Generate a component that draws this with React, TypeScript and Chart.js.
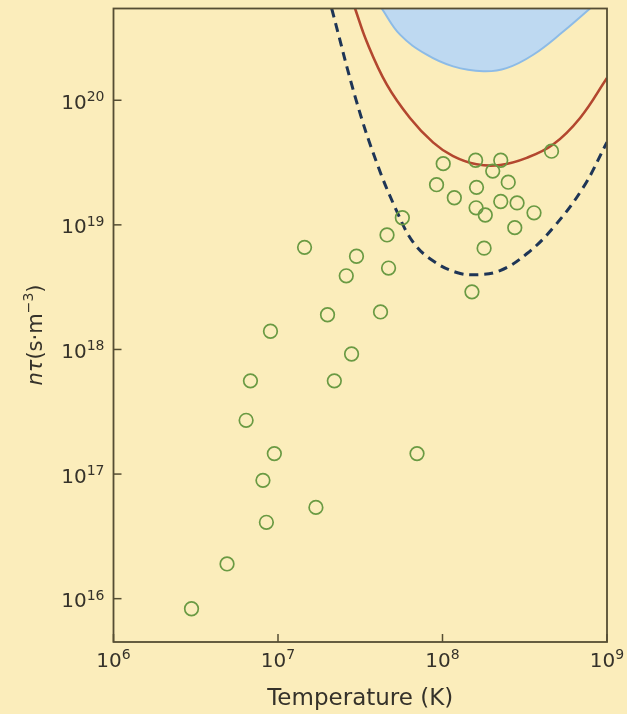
import React, { useEffect, useRef } from "react";
import { Chart, registerables } from "chart.js";

Chart.register(...registerables);

// ---- Data ----
const temperatureK = [
  2.98e6, 4.9e6, 8.5e6, 8.1e6, 9.5e6, 6.4e6, 6.8e6, 9.0e6, 1.45e7, 1.7e7,
  2.0e7, 2.2e7, 2.8e7, 2.6e7, 3.0e7, 4.2e7, 4.6e7, 4.7e7, 5.7e7, 7.0e7,
  9.2e7, 1.01e8, 1.18e8, 1.51e8, 1.59e8, 1.61e8, 1.6e8, 1.82e8, 1.79e8, 2.02e8,
  2.26e8, 2.26e8, 2.51e8, 2.84e8, 2.75e8, 3.6e8, 4.6e8,
];
const nTau = [
  8.3e15, 1.9e16, 4.1e16, 8.9e16, 1.46e17, 2.7e17, 5.6e17, 1.4e18, 6.6e18, 5.4e16,
  1.9e18, 5.6e17, 9.2e17, 3.9e18, 5.6e18, 2.0e18, 8.3e18, 4.5e18, 1.14e19, 1.46e17,
  2.1e19, 3.1e19, 1.65e19, 2.9e18, 3.3e19, 2.0e19, 1.37e19, 1.2e19, 6.5e18, 2.7e19,
  3.3e19, 1.54e19, 2.2e19, 1.5e19, 9.5e18, 1.25e19, 3.9e19,
];

// dashed navy curve
const breakEvenT = [2.12e7, 3.0e7, 3.98e7, 5.27e7, 6.64e7, 8.75e7, 1.22e8, 1.61e8, 2.24e8, 3.25e8, 4.7e8, 7.14e8, 1e9];
const breakEvenNt = [5.45e20, 9.8e19, 3.16e19, 1.29e19, 7.25e18, 5.15e18, 4.15e18, 3.98e18, 4.29e18, 5.86e18, 9.46e18, 1.98e19, 4.6e19];

// solid red curve
const lawsonT = [2.94e7, 3.46e7, 4.58e7, 6.34e7, 8.79e7, 1.16e8, 1.61e8, 2.24e8, 3.25e8, 4.72e8, 6.86e8, 1e9];
const lawsonNt = [5.45e20, 2.96e20, 1.34e20, 7.21e19, 4.57e19, 3.56e19, 3.06e19, 3.02e19, 3.45e19, 4.43e19, 7.21e19, 1.51e20];

// blue shaded region boundary
const ignitionT = [4.27e7, 5.52e7, 8.02e7, 1.16e8, 1.77e8, 2.45e8, 3.56e8, 5.42e8, 7.89e8];
const ignitionNt = [5.45e20, 3.36e20, 2.32e20, 1.87e20, 1.71e20, 1.81e20, 2.32e20, 3.56e20, 5.45e20];

const xTickValues = [1e6, 1e7, 1e8, 1e9];
const xTickExponents = ["6", "7", "8", "9"];
const yTickValues = [1e16, 1e17, 1e18, 1e19, 1e20];
const yTickExponents = ["16", "17", "18", "19", "20"];

const X_MIN = 1e6;
const X_MAX = 1e9;
const Y_MIN = 4.49e15;
const Y_MAX = 5.45e20;

const xTitle = "Temperature (K)";

// ---- Styles ----
const BG = "#fbedbb";
const AXIS = "#554d33";
const TEXT = "#35322a";
const FONT = "'DejaVu Sans', 'Open Sans', sans-serif";

const pairs = (xs: number[], ys: number[]) => xs.map((x, i) => ({ x, y: ys[i] }));

const decorPlugin = {
  id: "decor",
  beforeDraw(chart: any) {
    const ctx = chart.ctx;
    ctx.save();
    ctx.fillStyle = BG;
    ctx.fillRect(0, 0, chart.width, chart.height);
    ctx.restore();
  },
  afterDraw(chart: any) {
    const ctx = chart.ctx;
    const a = chart.chartArea;
    const xs = chart.scales.x;
    const ys = chart.scales.y;
    ctx.save();
    // frame
    ctx.strokeStyle = AXIS;
    ctx.lineWidth = 1.8;
    ctx.strokeRect(a.left, a.top, a.right - a.left, a.bottom - a.top);
    // inner ticks
    ctx.lineWidth = 1.5;
    xTickValues.forEach((v) => {
      const px = xs.getPixelForValue(v);
      ctx.beginPath();
      ctx.moveTo(px, a.bottom);
      ctx.lineTo(px, a.bottom - 8);
      ctx.stroke();
    });
    yTickValues.forEach((v) => {
      const py = ys.getPixelForValue(v);
      ctx.beginPath();
      ctx.moveTo(a.left, py);
      ctx.lineTo(a.left + 8, py);
      ctx.stroke();
    });
    // tick labels
    ctx.fillStyle = TEXT;
    ctx.textBaseline = "alphabetic";
    const baseFont = `20px ${FONT}`;
    const supFont = `14px ${FONT}`;
    xTickValues.forEach((v, i) => {
      const px = xs.getPixelForValue(v);
      ctx.font = baseFont;
      const w1 = ctx.measureText("10").width;
      ctx.font = supFont;
      const w2 = ctx.measureText(xTickExponents[i]).width;
      const start = px - (w1 + w2) / 2;
      ctx.font = baseFont;
      ctx.textAlign = "left";
      ctx.fillText("10", start, a.bottom + 25);
      ctx.font = supFont;
      ctx.fillText(xTickExponents[i], start + w1, a.bottom + 17);
    });
    yTickValues.forEach((v, i) => {
      const py = ys.getPixelForValue(v);
      ctx.font = supFont;
      const w2 = ctx.measureText(yTickExponents[i]).width;
      ctx.textAlign = "left";
      const right = a.left - 9;
      ctx.fillText(yTickExponents[i], right - w2, py + 1);
      ctx.font = baseFont;
      const w1 = ctx.measureText("10").width;
      ctx.fillText("10", right - w2 - w1, py + 8.5);
    });
    // x title
    ctx.font = `23px ${FONT}`;
    ctx.textAlign = "center";
    ctx.fillText(xTitle, (a.left + a.right) / 2, 705);
    // y title (rotated, mixed styles)
    const parts = [
      { t: "nτ", f: `italic 21px ${FONT}`, dy: 0 },
      { t: "(s·m", f: `21px ${FONT}`, dy: 0 },
      { t: "−3", f: `14px ${FONT}`, dy: -9 },
      { t: ")", f: `21px ${FONT}`, dy: 0 },
    ];
    let total = 0;
    parts.forEach((p) => {
      ctx.font = p.f;
      total += ctx.measureText(p.t).width;
    });
    ctx.translate(42, 335);
    ctx.rotate(-Math.PI / 2);
    ctx.textAlign = "left";
    let cx = -total / 2;
    parts.forEach((p) => {
      ctx.font = p.f;
      ctx.fillText(p.t, cx, p.dy);
      cx += ctx.measureText(p.t).width;
    });
    ctx.restore();
  },
};

export default function App() {
  const ref = useRef<HTMLCanvasElement | null>(null);

  useEffect(() => {
    if (!ref.current) return;
    const chart = new Chart(ref.current, {
      type: "scatter",
      data: {
        datasets: [
          {
            label: "Experiments",
            data: pairs(temperatureK, nTau),
            pointRadius: 6.8,
            pointHoverRadius: 6.8,
            pointBorderWidth: 1.7,
            pointBorderColor: "#6a9a43",
            pointBackgroundColor: "rgba(0,0,0,0)",
            showLine: false,
          },
          {
            label: "Break-even",
            type: "line",
            data: pairs(breakEvenT, breakEvenNt),
            borderColor: "#1e3556",
            borderWidth: 3,
            borderDash: [9, 6],
            pointRadius: 0,
            tension: 0.4,
            fill: false,
          },
          {
            label: "Lawson",
            type: "line",
            data: pairs(lawsonT, lawsonNt),
            borderColor: "#b3472f",
            borderWidth: 2.6,
            pointRadius: 0,
            tension: 0.4,
            fill: false,
          },
          {
            label: "Ignition",
            type: "line",
            data: pairs(ignitionT, ignitionNt),
            borderColor: "#8dbbe6",
            backgroundColor: "#bed9f1",
            borderWidth: 2,
            pointRadius: 0,
            tension: 0.4,
            fill: "end",
          },
        ],
      },
      options: {
        animation: false,
        responsive: false,
        devicePixelRatio: 1,
        layout: { padding: { top: 7, right: 20, left: 0, bottom: 0 } },
        plugins: {
          legend: { display: false },
          tooltip: { enabled: false },
        },
        scales: {
          x: {
            type: "logarithmic",
            min: X_MIN,
            max: X_MAX,
            grid: { display: false },
            border: { display: false },
            ticks: { display: false },
            afterFit: (s: any) => {
              s.height = 72;
            },
          },
          y: {
            type: "logarithmic",
            min: Y_MIN,
            max: Y_MAX,
            grid: { display: false },
            border: { display: false },
            ticks: { display: false },
            afterFit: (s: any) => {
              s.width = 113.5;
            },
          },
        },
      },
      plugins: [decorPlugin],
    } as any);
    return () => chart.destroy();
  }, []);

  return (
    <div
      style={{
        position: "fixed",
        left: 0,
        top: 0,
        width: 627,
        height: 714,
        background: BG,
      }}
    >
      <canvas ref={ref} width={627} height={714} style={{ display: "block" }} />
    </div>
  );
}
